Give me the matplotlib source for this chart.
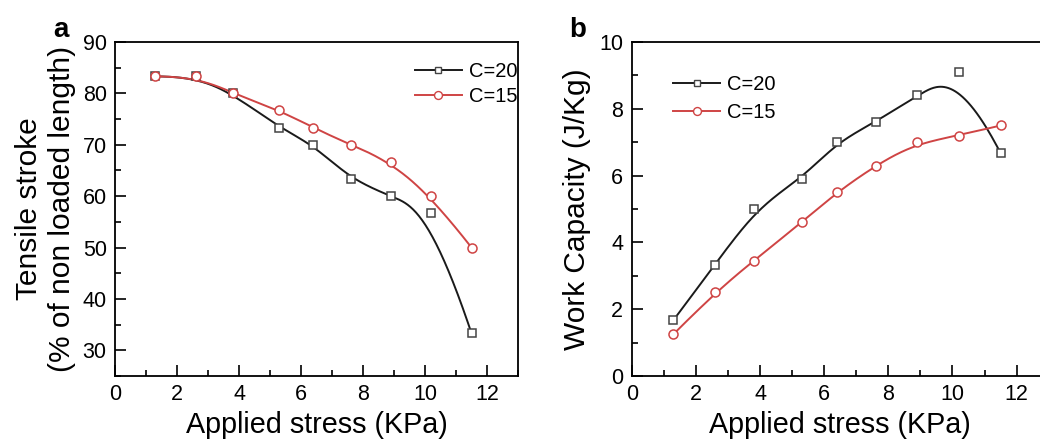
import numpy as np
import matplotlib
matplotlib.use("Agg")
import matplotlib.pyplot as plt
from matplotlib.ticker import MultipleLocator

plt.rcParams['font.family'] = ['Liberation Sans', 'DejaVu Sans']

# data
stress = [1.3, 2.6, 3.8, 5.3, 6.4, 7.6, 8.9, 10.2, 11.5]

stroke_c20 = [83.3, 83.3, 80.0, 73.3, 70.0, 63.3, 60.0, 56.7, 33.3]
stroke_c15 = [83.3, 83.3, 80.0, 76.7, 73.3, 70.0, 66.7, 60.0, 50.0]

work_c20 = [1.67, 3.33, 5.0, 5.9, 7.0, 7.6, 8.4, 9.1, 6.67]
work_c15 = [1.25, 2.5, 3.45, 4.6, 5.5, 6.3, 7.0, 7.2, 7.5]

labels = ["C=20", "C=15"]

BLACK = "#1a1a1a"
RED = "#cf4444"


def bspline(px, py, k=3, num=400):
    # clamped uniform B-spline using the data points as control points (Origin style)
    P = np.column_stack([px, py]).astype(float)
    n = len(P)
    t = np.concatenate([np.zeros(k), np.arange(n - k + 1), np.full(k, n - k)]).astype(float)
    u = np.linspace(0, n - k, num)
    N = np.zeros((num, len(t) - 1))
    for i in range(len(t) - 1):
        N[:, i] = (t[i] <= u) & (u < t[i + 1])
    N[-1, n - 1] = 1.0
    for d in range(1, k + 1):
        Nn = np.zeros((num, len(t) - 1 - d))
        for i in range(len(t) - 1 - d):
            a = t[i + d] - t[i]
            b = t[i + d + 1] - t[i + 1]
            term = np.zeros(num)
            if a > 0:
                term += (u - t[i]) / a * N[:, i]
            if b > 0:
                term += (t[i + d + 1] - u) / b * N[:, i + 1]
            Nn[:, i] = term
        N = Nn
    C = N @ P
    return C[:, 0], C[:, 1]


def draw(ax, x, y, color, marker, ms, label):
    edge = color if color == RED else '#444444'
    cx, cy = bspline(x, y)
    ax.plot(cx, cy, color=color, lw=1.4, zorder=2)
    ax.plot(x, y, ls='none', marker=marker, ms=ms, mfc='white',
            mec=edge, mew=1.1, zorder=3)
    # legend proxy
    ax.plot([], [], color=color, lw=1.4, marker=marker, ms=ms - 0.8, mfc='white',
            mec=edge, mew=1.0, label=label)


def style(ax):
    for s in ax.spines.values():
        s.set_linewidth(1.3)
    ax.tick_params(which='both', direction='in', top=False, right=False,
                   labelsize=15.5, width=1.2, pad=6)
    ax.tick_params(which='major', length=8)
    ax.tick_params(which='minor', length=4)
    ax.xaxis.set_major_locator(MultipleLocator(2))
    ax.xaxis.set_minor_locator(MultipleLocator(1))
    ax.set_xlim(0, 13)
    ax.set_xlabel("Applied stress (KPa)", fontsize=20.7, labelpad=4)


fig = plt.figure(figsize=(10.4, 4.41), dpi=100)

# panel a
ax1 = fig.add_axes([0.1106, 0.1474, 0.3875, 0.7574])
draw(ax1, stress, stroke_c20, BLACK, 's', 5.5, labels[0])
draw(ax1, stress, stroke_c15, RED, 'o', 6.5, labels[1])
style(ax1)
ax1.set_ylim(25, 90)
ax1.yaxis.set_major_locator(MultipleLocator(10))
ax1.yaxis.set_minor_locator(MultipleLocator(5))
ax1.set_ylabel("Tensile stroke\n(% of non loaded length)", fontsize=21.5,
               linespacing=1.2, labelpad=5)
ax1.legend(loc='upper left', bbox_to_anchor=(0.745, 0.94), frameon=False,
           fontsize=14.5, handlelength=2.3, handletextpad=0.35, labelspacing=0.3,
           borderpad=0, borderaxespad=0, numpoints=1)
fig.text(0.051, 0.915, "a", fontsize=20, fontweight='bold')

# panel b
ax2 = fig.add_axes([0.6074, 0.1474, 0.401, 0.7574])
draw(ax2, stress, work_c20, BLACK, 's', 5.5, labels[0])
draw(ax2, stress, work_c15, RED, 'o', 6.5, labels[1])
style(ax2)
ax2.set_ylim(0, 10)
ax2.yaxis.set_major_locator(MultipleLocator(2))
ax2.yaxis.set_minor_locator(MultipleLocator(1))
ax2.set_ylabel("Work Capacity (J/Kg)", fontsize=21.5, labelpad=6)
ax2.legend(loc='upper left', bbox_to_anchor=(0.10, 0.90), frameon=False,
           fontsize=14.5, handlelength=2.3, handletextpad=0.35, labelspacing=0.45,
           borderpad=0, borderaxespad=0, numpoints=1)
fig.text(0.547, 0.915, "b", fontsize=20, fontweight='bold')

fig.savefig("out.png", dpi=100)
